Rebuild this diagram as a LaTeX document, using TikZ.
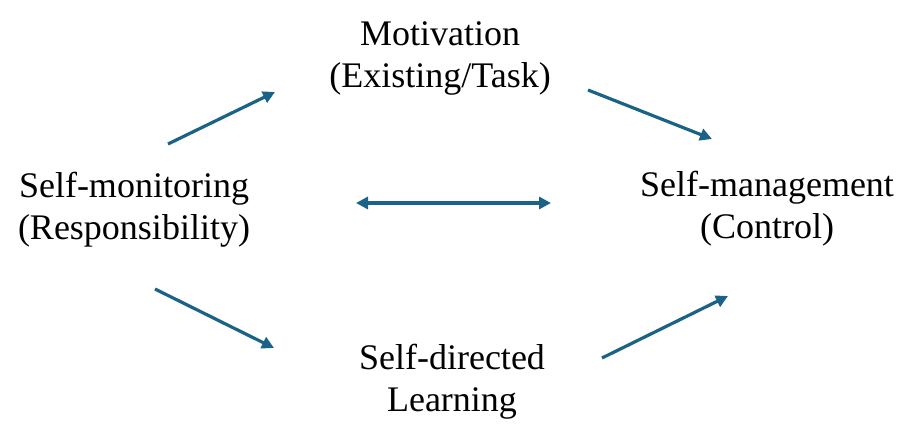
\documentclass[tikz,border=0pt]{standalone}
\usepackage{fontspec}
\setmainfont{Liberation Serif}
\usetikzlibrary{arrows.meta}
\definecolor{arrowblue}{RGB}{26,98,134}
\tikzset{
  label text/.style={align=center, inner sep=0pt, font=\fontsize{36}{42}\selectfont, text=black},
  flow/.style={draw=arrowblue, line width=3.2pt, -{Triangle[length=12pt,width=12pt]}},
  bothflow/.style={draw=arrowblue, line width=3.2pt, {Triangle[length=12pt,width=12pt]}-{Triangle[length=12pt,width=12pt]}}
}
\begin{document}
\begin{tikzpicture}[x=1pt,y=-1pt]
\useasboundingbox (0,0) rectangle (921,445);
\node[label text] (mot) at (440,58) {Motivation\\(Existing/Task)};
\node[label text] (mon) at (134,210) {Self-monitoring\\(Responsibility)};
\node[label text] (man) at (767,209) {Self-management\\(Control)};
\node[label text] (dir) at (452,382) {Self-directed\\Learning};
\coordinate (a1s) at (168,144); \coordinate (a1e) at (275,92);
\coordinate (a2s) at (588,90);  \coordinate (a2e) at (712,139);
\coordinate (a3s) at (356,203); \coordinate (a3e) at (551,203);
\coordinate (a4s) at (155,289); \coordinate (a4e) at (274,348);
\coordinate (a5s) at (602,358); \coordinate (a5e) at (728,296);
\draw[flow] (a1s) -- (a1e);
\draw[flow] (a2s) -- (a2e);
\draw[bothflow] (a3s) -- (a3e);
\draw[flow] (a4s) -- (a4e);
\draw[flow] (a5s) -- (a5e);
\end{tikzpicture}
\end{document}
